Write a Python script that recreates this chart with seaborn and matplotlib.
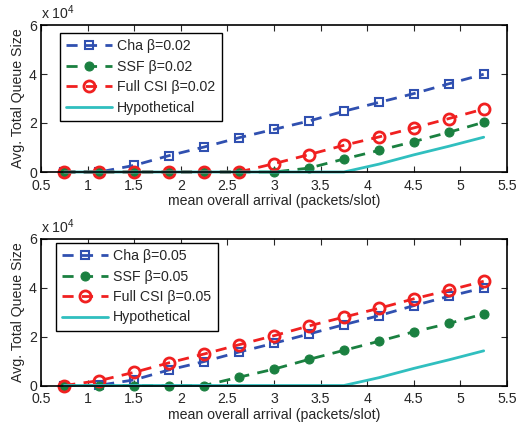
import matplotlib
matplotlib.use("Agg")
import matplotlib.pyplot as plt
import seaborn as sns
import numpy as np
from matplotlib.ticker import FuncFormatter, MultipleLocator

sns.set_style("white")
plt.rcParams['font.family'] = ['Liberation Sans', 'DejaVu Sans']
plt.rcParams['mathtext.fontset'] = 'custom'
plt.rcParams['mathtext.rm'] = 'Liberation Sans'

arrival = [0.75, 1.125, 1.5, 1.875, 2.25, 2.625, 3.0, 3.375, 3.75, 4.125, 4.5, 4.875, 5.25]

# top panel (beta = 0.02)
cha_02 = [0, 0, 2700, 6700, 10200, 14000, 17400, 20800, 24800, 28400, 32000, 36000, 39900]
ssf_02 = [0, 0, 0, 0, 0, 0, 0, 1600, 5300, 8800, 12400, 16200, 20300]
full_02 = [0, 0, 0, 0, 0, 0, 3400, 7100, 10900, 14300, 18000, 21800, 25700]
hyp = [0, 0, 0, 0, 0, 0, 0, 0, 0, 3200, 7000, 10500, 14200]

# bottom panel (beta = 0.05)
cha_05 = [0, 100, 2300, 6400, 9800, 13700, 17300, 21100, 24900, 28600, 32700, 36500, 40000]
ssf_05 = [0, 0, 0, 0, 0, 3400, 6700, 10700, 14400, 18100, 22000, 25400, 29300]
full_05 = [0, 2000, 5400, 9300, 12900, 16700, 20400, 24400, 28000, 31600, 35500, 39000, 42700]

labels_02 = ["Cha \u03b2=0.02", "SSF \u03b2=0.02", "Full CSI \u03b2=0.02", "Hypothetical"]
labels_05 = ["Cha \u03b2=0.05", "SSF \u03b2=0.05", "Full CSI \u03b2=0.05", "Hypothetical"]

c_blue = "#3050b0"
c_green = "#1a8040"
c_red = "#f02020"
c_cyan = "#30bfbf"

FS = 10.2

fig = plt.figure(figsize=(5.17, 4.30), dpi=100)
ax1 = fig.add_axes([41/517, 1-172/430, 466/517, 147/430])
ax2 = fig.add_axes([41/517, 1-385.5/430, 466/517, 146.5/430])

def draw(ax, cha, ssf, full, labels, legend_pos):
    dash = (4, 3)
    sns.lineplot(x=arrival, y=cha, ax=ax, color=c_blue, lw=2, marker='s', ms=6,
                 mfc='none', mec=c_blue, mew=1.5, label=labels[0], dashes=False)
    sns.lineplot(x=arrival, y=ssf, ax=ax, color=c_green, lw=2, marker='o', ms=6.5,
                 mfc=c_green, mec=c_green, label=labels[1], dashes=False)
    sns.lineplot(x=arrival, y=full, ax=ax, color=c_red, lw=2, marker='o', ms=8,
                 mfc='none', mec=c_red, mew=2, label=labels[2], dashes=False)
    sns.lineplot(x=arrival, y=hyp, ax=ax, color=c_cyan, lw=2, label=labels[3])
    for ln in ax.get_lines()[:3]:
        ln.set_dashes(dash)
    for ln in ax.get_lines():
        ln.set_clip_on(False)
    ax.set_xlim(0.5, 5.5)
    ax.set_ylim(0, 60000)
    ax.xaxis.set_major_locator(MultipleLocator(0.5))
    ax.yaxis.set_major_locator(MultipleLocator(20000))
    ax.xaxis.set_major_formatter(FuncFormatter(lambda v, p: f"{v:g}"))
    ax.yaxis.set_major_formatter(FuncFormatter(lambda v, p: f"{v/1e4:g}"))
    ax.tick_params(direction='in', length=4, width=0.8, labelsize=FS, top=True, right=True,
                   bottom=True, left=True, pad=3)
    ax.tick_params(axis='x', pad=5)
    for s in ax.spines.values():
        s.set_color('black')
        s.set_linewidth(1.2)
    ax.set_xlabel("mean overall arrival (packets/slot)", fontsize=FS, labelpad=1)
    ax.set_ylabel("Avg. Total Queue Size", fontsize=FS, labelpad=3)
    ax.text(0.0, 1.02, "x 10$^4$", transform=ax.transAxes, fontsize=FS, ha='left', va='bottom')
    leg = ax.legend(loc='upper left', bbox_to_anchor=legend_pos, fontsize=FS,
                    frameon=True, fancybox=False, edgecolor='black', framealpha=1,
                    handlelength=3.2, borderpad=0.45, labelspacing=0.45, handletextpad=0.4,
                    borderaxespad=0)
    leg.get_frame().set_linewidth(1.0)
    for h in leg.get_lines()[:3]:
        h.set_dashes((4, 3))

draw(ax1, cha_02, ssf_02, full_02, labels_02, (19/466, 1-8/147))
draw(ax2, cha_05, ssf_05, full_05, labels_05, (15/466, 1-4/146.5))

fig.savefig("out.png", dpi=100)
